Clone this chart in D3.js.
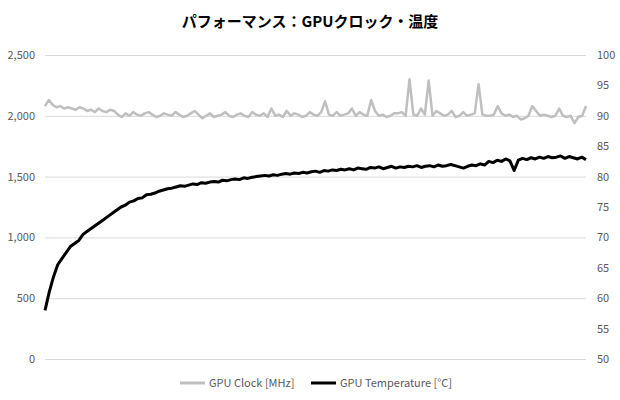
<!DOCTYPE html><html><head><meta charset="utf-8"><script src="https://cdn.jsdelivr.net/npm/d3@7"></script>
<style>body{margin:0;background:#fff}text{font-family:"Noto Sans CJK JP","Open Sans",sans-serif}</style></head><body><svg id="c" width="620" height="400"></svg><script>
const title="パフォーマンス：GPUクロック・温度";
const seriesNames=["GPU Clock [MHz]","GPU Temperature [°C]"];
const leftTicks=[0,500,1000,1500,2000,2500];
const rightTicks=[50,55,60,65,70,75,80,85,90,95,100];
const clock=[2080,2130,2090,2070,2080,2060,2070,2060,2050,2070,2060,2040,2050,2030,2060,2040,2030,2050,2040,2010,1990,2020,2000,2030,2010,2000,2020,2030,2010,1990,2000,2020,2010,2000,2030,2010,1990,2000,2020,2040,2010,1980,2000,2020,1990,2000,2010,2030,2000,1990,2010,2020,2000,1990,2030,2010,2000,2020,1990,2060,2000,2010,1990,2040,2000,2020,2010,1990,2000,2030,2010,2000,2030,2120,2010,2000,2030,2000,2010,2020,2060,2000,2030,2010,2000,2130,2040,2000,2010,1990,2000,2020,2020,2030,2000,2300,2010,2000,2060,2010,2290,2000,2040,2020,2000,2010,2040,1990,2000,2030,2000,2010,2020,2260,2010,2000,2000,2010,2080,2020,2000,2010,1990,2000,1970,1980,2000,2080,2040,2000,2010,2000,1990,2000,2060,2000,1990,2000,1940,1990,2000,2080];
const temp=[58,61,63.5,65.5,66.5,67.5,68.5,69,69.5,70.5,71,71.5,72,72.5,73,73.5,74,74.5,75,75.3,75.8,76,76.4,76.5,77,77.1,77.3,77.6,77.8,78,78.1,78.3,78.5,78.4,78.6,78.8,78.7,79,78.9,79.1,79.2,79.1,79.4,79.3,79.5,79.6,79.5,79.8,79.7,79.9,80,80.1,80.2,80.1,80.3,80.2,80.4,80.5,80.4,80.6,80.5,80.7,80.6,80.8,80.9,80.7,81,80.9,81.1,81,81.2,81.1,81.3,81.1,81.4,81.3,81.2,81.5,81.4,81.6,81.3,81.5,81.7,81.4,81.6,81.5,81.7,81.6,81.8,81.5,81.7,81.8,81.6,81.9,81.7,81.8,82,81.8,81.6,81.4,81.7,81.9,81.8,82.1,81.9,82.5,82.3,82.7,82.5,82.9,82.6,81.0,82.7,83,82.8,83.1,82.9,83.2,83,83.3,83.1,83.2,83.4,83,83.3,83.1,82.9,83.2,82.8];
const svg=d3.select("#c");
const L=45,R=586,T=55,B=359;
const yL=d3.scaleLinear().domain([0,2500]).range([B,T]);
const yR=d3.scaleLinear().domain([50,100]).range([B,T]);
const xc=d3.scaleLinear().domain([0,clock.length-1]).range([L,R]);
const xt=d3.scaleLinear().domain([0,temp.length-1]).range([L,R]);
svg.append("text").attr("x",310).attr("y",27).attr("text-anchor","middle").attr("font-size",15).attr("font-weight","bold").attr("fill","#000").text(title);
const gl=svg.append("g").attr("transform",`translate(${L},0)`).call(d3.axisLeft(yL).tickValues(leftTicks).tickSize(-(R-L)).tickPadding(10));
gl.select(".domain").remove();gl.selectAll("line").attr("stroke","#d9d9d9");
gl.selectAll("text").attr("fill","#595959").attr("font-size",11).attr("font-family","Open Sans");
const gr=svg.append("g").attr("transform",`translate(${R},0)`).call(d3.axisRight(yR).tickValues(rightTicks).tickSize(0).tickPadding(11));
gr.select(".domain").remove();gr.selectAll("text").attr("fill","#595959").attr("font-size",11).attr("font-family","Open Sans");
svg.append("path").datum(clock).attr("fill","none").attr("stroke","#bfbfbf").attr("stroke-width",2.5).attr("stroke-linejoin","round")
 .attr("d",d3.line().x((d,i)=>xc(i)).y(d=>yL(d)));
svg.append("path").datum(temp).attr("fill","none").attr("stroke","#000").attr("stroke-width",3).attr("stroke-linejoin","round")
 .attr("d",d3.line().x((d,i)=>xt(i)).y(d=>yR(d)));
const lg=[{x:180,c:"#bfbfbf",t:seriesNames[0]},{x:311,c:"#000",t:seriesNames[1]}];
lg.forEach(o=>{svg.append("line").attr("x1",o.x).attr("x2",o.x+25).attr("y1",383).attr("y2",383).attr("stroke",o.c).attr("stroke-width",3);
svg.append("text").attr("x",o.x+29).attr("y",387).attr("font-size",11).attr("fill","#595959").attr("font-family","Open Sans").text(o.t);});
</script></body></html>
